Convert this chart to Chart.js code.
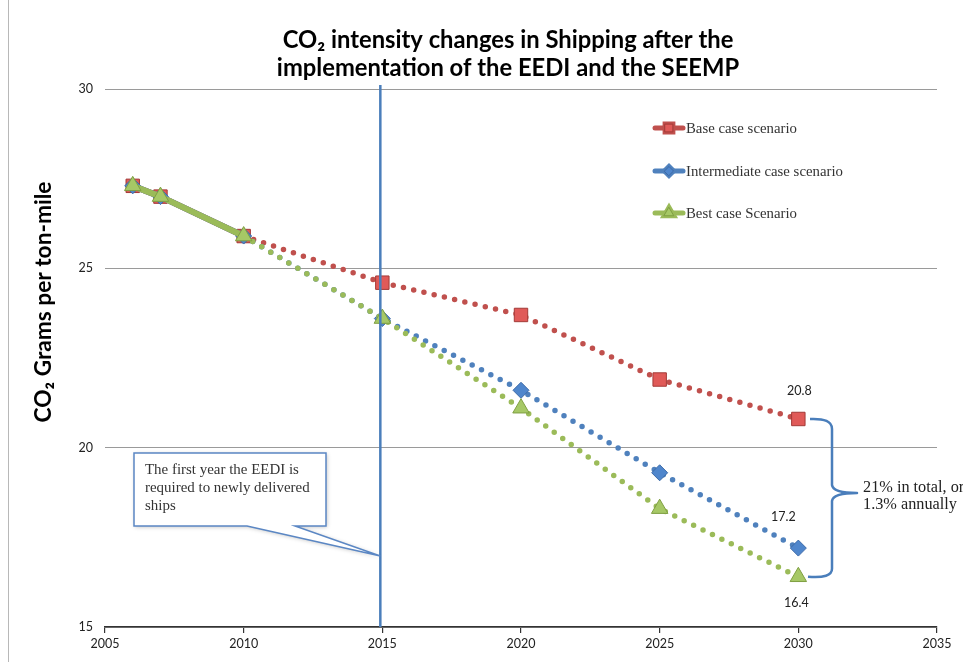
<!DOCTYPE html>
<html><head><meta charset="utf-8">
<script src="https://cdn.jsdelivr.net/npm/chart.js@4"></script>
<style>html,body{margin:0;padding:0;background:#fff}#wrap{width:963px;height:662px}</style>
</head><body><div id="wrap"><canvas id="c" width="963" height="662"></canvas></div>
<script>
const years = [2006, 2007, 2010, 2015, 2020, 2025, 2030];
const baseCase = [27.3, 27.0, 25.9, 24.6, 23.7, 21.9, 20.8];
const intermediateCase = [27.3, 27.0, 25.9, 23.6, 21.6, 19.3, 17.2];
const bestCase = [27.3, 27.0, 25.9, 23.6, 21.1, 18.3, 16.4];
const xTicks = [2005, 2010, 2015, 2020, 2025, 2030, 2035];
const yTicks = [15, 20, 25, 30];
const seriesNames = ['Base case scenario', 'Intermediate case scenario', 'Best case Scenario'];
const titleLines = ['CO₂ intensity changes in Shipping after the', 'implementation of the EEDI and the SEEMP'];
const yTitle = 'CO₂ Grams per ton-mile';
const calloutLines = ['The first year the EEDI is', 'required to newly delivered', 'ships'];
const braceLines = ['21% in total, or', '1.3% annually'];
const eediYear = 2015;
const projectionStart = 2010;

const RED = '#c0504d', BLUE = '#4f81bd', GREEN = '#9bbb59';
const SANS = "Lato, 'Open Sans', 'Liberation Sans', sans-serif";
const SERIF = "'Liberation Serif', 'DejaVu Serif', serif";

function pts(vals) { return years.map((x, i) => ({x: x, y: vals[i]})); }
function seg(solidW, dotW) {
  return {
    borderDash: c => c.p0.parsed.x >= projectionStart ? [0, 10.5] : [],
    borderWidth: c => c.p0.parsed.x >= projectionStart ? dotW : solidW
  };
}

const colors = [RED, BLUE, GREEN];
const fills = ['#e05a58', '#4f86cc', '#a6c866'];
const edges = ['#a33a37', '#3c6aa8', '#7f9f42'];
const styles = ['rect', 'rectRot', 'triangle'];
const radii = [9.5, 8, 9.5];
const series = [baseCase, intermediateCase, bestCase];

const datasets = series.map((s, i) => ({
  label: seriesNames[i],
  data: pts(s),
  borderColor: colors[i],
  borderWidth: 5.5,
  borderCapStyle: 'round',
  borderJoinStyle: 'round',
  segment: seg(6, 5.5),
  pointStyle: styles[i],
  pointRadius: radii[i],
  pointBackgroundColor: fills[i],
  pointBorderColor: edges[i],
  pointBorderWidth: 1,
  tension: 0,
  order: 3 - i
}));

function fitSize(ctx, text, weight, family, target) {
  ctx.font = weight + ' 20px ' + family;
  return 20 * target / ctx.measureText(text).width;
}

const overlay = {
  id: 'overlay',
  afterDatasetsDraw(chart) {
    const ctx = chart.ctx, xs = chart.scales.x, ys = chart.scales.y, a = chart.chartArea;
    ctx.save();
    // vertical EEDI line
    const vx = xs.getPixelForValue(eediYear) - 2;
    ctx.strokeStyle = '#4a7ebb'; ctx.lineWidth = 2.5;
    ctx.beginPath(); ctx.moveTo(vx, a.top - 4); ctx.lineTo(vx, a.bottom); ctx.stroke();

    // callout box
    const bx = 134, by = 453, bw = 192, bh = 73;
    const tipY = 556;
    ctx.save();
    ctx.shadowColor = 'rgba(0,0,0,0.25)'; ctx.shadowBlur = 4; ctx.shadowOffsetX = 1; ctx.shadowOffsetY = 1;
    ctx.fillStyle = '#fff';
    ctx.beginPath();
    ctx.moveTo(bx, by); ctx.lineTo(bx + bw, by); ctx.lineTo(bx + bw, by + bh);
    ctx.lineTo(295, by + bh); ctx.lineTo(vx, tipY); ctx.lineTo(247, by + bh);
    ctx.lineTo(bx, by + bh); ctx.closePath();
    ctx.fill();
    ctx.restore();
    ctx.strokeStyle = '#5b87c4'; ctx.lineWidth = 1.5;
    ctx.stroke();
    const cs = fitSize(ctx, calloutLines[0], 'normal', SERIF, 154);
    ctx.fillStyle = '#333'; ctx.font = cs + 'px ' + SERIF; ctx.textBaseline = 'middle'; ctx.textAlign = 'left';
    calloutLines.forEach((t, i) => ctx.fillText(t, 145, 470 + i * 18));

    // data labels at 2030
    ctx.font = '12.5px ' + SANS; ctx.fillStyle = '#222'; ctx.textAlign = 'center';
    const lx = xs.getPixelForValue(years[years.length - 1]);
    const last = series.map(s => s[s.length - 1]);
    ctx.fillText(last[0].toFixed(1), lx + 1, ys.getPixelForValue(last[0]) - 28);
    ctx.fillText(last[1].toFixed(1), lx - 15, ys.getPixelForValue(last[1]) - 31);
    ctx.fillText(last[2].toFixed(1), lx - 2, ys.getPixelForValue(last[2]) + 26);

    // brace
    const yTop = ys.getPixelForValue(last[0]), yBot = ys.getPixelForValue(last[2]);
    const mid = 493;
    ctx.strokeStyle = '#4a7ebb'; ctx.lineWidth = 2.5; ctx.lineJoin = 'round';
    ctx.beginPath();
    ctx.moveTo(810, yTop);
    ctx.quadraticCurveTo(832, yTop - 1, 832, yTop + 10);
    ctx.lineTo(832, mid - 8);
    ctx.quadraticCurveTo(833, mid, 857, mid);
    ctx.quadraticCurveTo(833, mid, 832, mid + 8);
    ctx.lineTo(832, yBot - 8);
    ctx.quadraticCurveTo(832, yBot + 2, 808, yBot);
    ctx.stroke();
    const bs = fitSize(ctx, braceLines[1], 'normal', SERIF, 94);
    ctx.fillStyle = '#222'; ctx.font = bs + 'px ' + SERIF; ctx.textAlign = 'left';
    braceLines.forEach((t, i) => ctx.fillText(t, 863, 488 + i * 17));
    ctx.restore();
  },
  afterDraw(chart) {
    const ctx = chart.ctx;
    ctx.save();
    // frame line on left
    ctx.strokeStyle = '#b8b8b8'; ctx.lineWidth = 1;
    ctx.beginPath(); ctx.moveTo(8.5, 0); ctx.lineTo(8.5, 662); ctx.stroke();
    // title
    const ts = fitSize(ctx, titleLines[0], 'bold', SANS, 451);
    ctx.font = 'bold ' + ts + 'px ' + SANS; ctx.fillStyle = '#000';
    ctx.textAlign = 'center'; ctx.textBaseline = 'middle';
    ctx.fillText(titleLines[0], 508, 40);
    ctx.fillText(titleLines[1], 508, 68);
    // y title
    const ys = fitSize(ctx, yTitle, 'bold', SANS, 241);
    ctx.save();
    ctx.translate(44, 302); ctx.rotate(-Math.PI / 2);
    ctx.font = 'bold ' + ys + 'px ' + SANS;
    ctx.fillText(yTitle, 0, 0);
    ctx.restore();
    // legend
    const rows = [128, 171, 213];
    const ls = fitSize(ctx, seriesNames[1], 'normal', SERIF, 157);
    ctx.font = ls + 'px ' + SERIF; ctx.textAlign = 'left'; ctx.fillStyle = '#333';
    rows.forEach((y, i) => {
      ctx.strokeStyle = colors[i]; ctx.lineWidth = 5; ctx.lineCap = 'round';
      ctx.beginPath(); ctx.moveTo(655, y); ctx.lineTo(683, y); ctx.stroke();
      Chart.helpers.drawPoint(ctx, {pointStyle: styles[i], radius: [5.5, 4.5, 5.5][i], borderWidth: 1, rotation: 0}, 669, y);
      ctx.fillStyle = fills[i]; ctx.fill();
      ctx.strokeStyle = edges[i]; ctx.lineWidth = 1; ctx.stroke();
      ctx.fillStyle = '#333';
      ctx.fillText(seriesNames[i], 686, y + 1);
    });
    ctx.restore();
  }
};

new Chart(document.getElementById('c'), {
  type: 'line',
  data: {datasets: datasets},
  plugins: [overlay],
  options: {
    responsive: false,
    animation: false,
    devicePixelRatio: 1,
    layout: {padding: {top: 89, right: 26, bottom: 0, left: 0}},
    plugins: {legend: {display: false}, title: {display: false}, tooltip: {enabled: false}},
    scales: {
      x: {
        type: 'linear', min: xTicks[0], max: xTicks[xTicks.length - 1],
        afterBuildTicks: s => { s.ticks = xTicks.map(v => ({value: v})); },
        afterFit: s => { s.height = 35; },
        ticks: {callback: v => String(v), color: '#222', font: {family: SANS, size: 12.5}, padding: 3, maxRotation: 0},
        grid: {drawOnChartArea: false, drawTicks: true, tickLength: 6, color: '#333', lineWidth: 1.2},
        border: {color: '#333', width: 1.5}
      },
      y: {
        type: 'linear', min: yTicks[0], max: yTicks[yTicks.length - 1],
        afterBuildTicks: s => { s.ticks = yTicks.map(v => ({value: v})); },
        afterFit: s => { s.width = 105; },
        ticks: {color: '#222', font: {family: SANS, size: 12.5}, padding: 12},
        grid: {color: '#9a9a9a', lineWidth: 1, drawTicks: false},
        border: {display: false}
      }
    }
  }
});
</script>
</body></html>
